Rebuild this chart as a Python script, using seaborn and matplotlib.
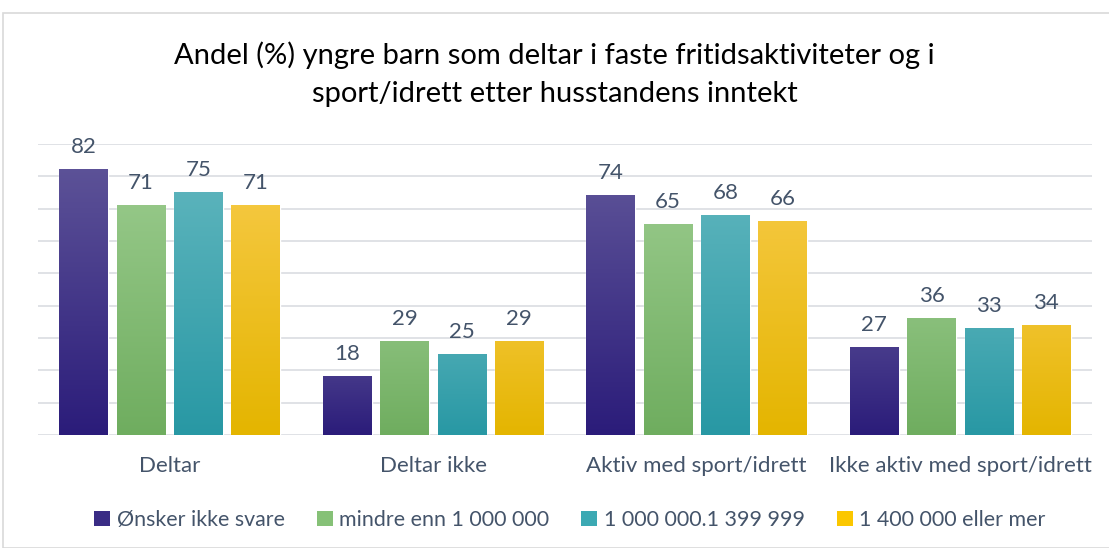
import numpy as np
import pandas as pd
import matplotlib.pyplot as plt
import matplotlib.colors as mcolors
from matplotlib.patches import Rectangle, Patch
import seaborn as sns

categories = ["Deltar", "Deltar ikke", "Aktiv med sport/idrett", "Ikke aktiv med sport/idrett"]
groups = ["Ønsker ikke svare", "mindre enn 1 000 000", "1 000 000.1 399 999", "1 400 000 eller mer"]
v_onsker = [82, 18, 74, 27]
v_mindre = [71, 29, 65, 36]
v_mellom = [75, 25, 68, 33]
v_over = [71, 29, 66, 34]

# top / bottom colours of the gradient fill
grad_top = ["#5F5599", "#9ACB8D", "#60B6BE", "#F7CA47"]
grad_bot = ["#2B1C7A", "#6FAD5F", "#2898A4", "#E4B500"]
mid_col = ["#3A2C85", "#86C177", "#3CA9B3", "#FBC700"]

sns.set_theme(style="white")
plt.rcParams['font.family'] = ['Lato', 'DejaVu Sans']

df = pd.DataFrame({
    "kategori": np.repeat(categories, 4),
    "gruppe": groups * 4,
    "verdi": [v[i] for i in range(4) for v in (v_onsker, v_mindre, v_mellom, v_over)],
})

fig = plt.figure(figsize=(11.09, 5.48), dpi=100)
W, H = 1109, 548
ax = fig.add_axes([38 / W, (H - 435) / H, (1092 - 38) / W, (435 - 144) / H])

sns.barplot(data=df, x="kategori", y="verdi", hue="gruppe", order=categories,
            hue_order=groups, palette=mid_col, width=0.87, gap=0.15,
            legend=False, ax=ax, zorder=3)

ax.set_ylim(0, 90)
ax.set_xlim(-0.5, 3.5)
ax.set_yticks(range(0, 91, 10))
ax.yaxis.grid(True, color="#DADDE1", lw=1.2, zorder=0)
ax.tick_params(axis="y", left=False, labelleft=False)
ax.tick_params(axis="x", bottom=False, labelsize=16, colors="#44546A", pad=9)
for s in ax.spines.values():
    s.set_visible(False)
ax.set_xlabel("")
ax.set_ylabel("")

# gradient fill on each bar
for i, cont in enumerate(ax.containers):
    cmap = mcolors.LinearSegmentedColormap.from_list("g%d" % i, [grad_bot[i], grad_top[i]])
    for p in cont.patches:
        x0, y0 = p.get_x(), p.get_y()
        w, h = p.get_width(), p.get_height()
        top = min(1.0, 0.35 + h / 90 * 0.65)
        grad = np.linspace(0, top, 256).reshape(-1, 1)
        ax.imshow(grad, extent=[x0, x0 + w, y0, y0 + h], origin="lower",
                  cmap=cmap, vmin=0, vmax=1, aspect="auto", zorder=4)
    ax.bar_label(cont, padding=9, fontsize=16, color="#44546A", zorder=5)
ax.set_xlim(-0.5, 3.5)
ax.set_ylim(0, 90)

fig.suptitle("Andel (%) yngre barn som deltar i faste fritidsaktiviteter og i\nsport/idrett etter husstandens inntekt",
             y=1 - 41 / H, fontsize=21, color="#000000", linespacing=1.6, va="top")

handles = [Patch(facecolor=c, edgecolor="none") for c in mid_col]
fig.legend(handles, groups, loc="center", bbox_to_anchor=(0.514, 1 - 520 / H), ncol=4,
           frameon=False, fontsize=15.4, labelcolor="#44546A", handlelength=0.75,
           handleheight=0.75, handletextpad=0.3, columnspacing=1.5)

fig.patches.append(Rectangle((3 / W, 0), 1.1, 1 - 13 / H, transform=fig.transFigure,
                             fill=False, edgecolor="#D9D9D9", lw=1.2))

fig.savefig("out.png", dpi=100)
